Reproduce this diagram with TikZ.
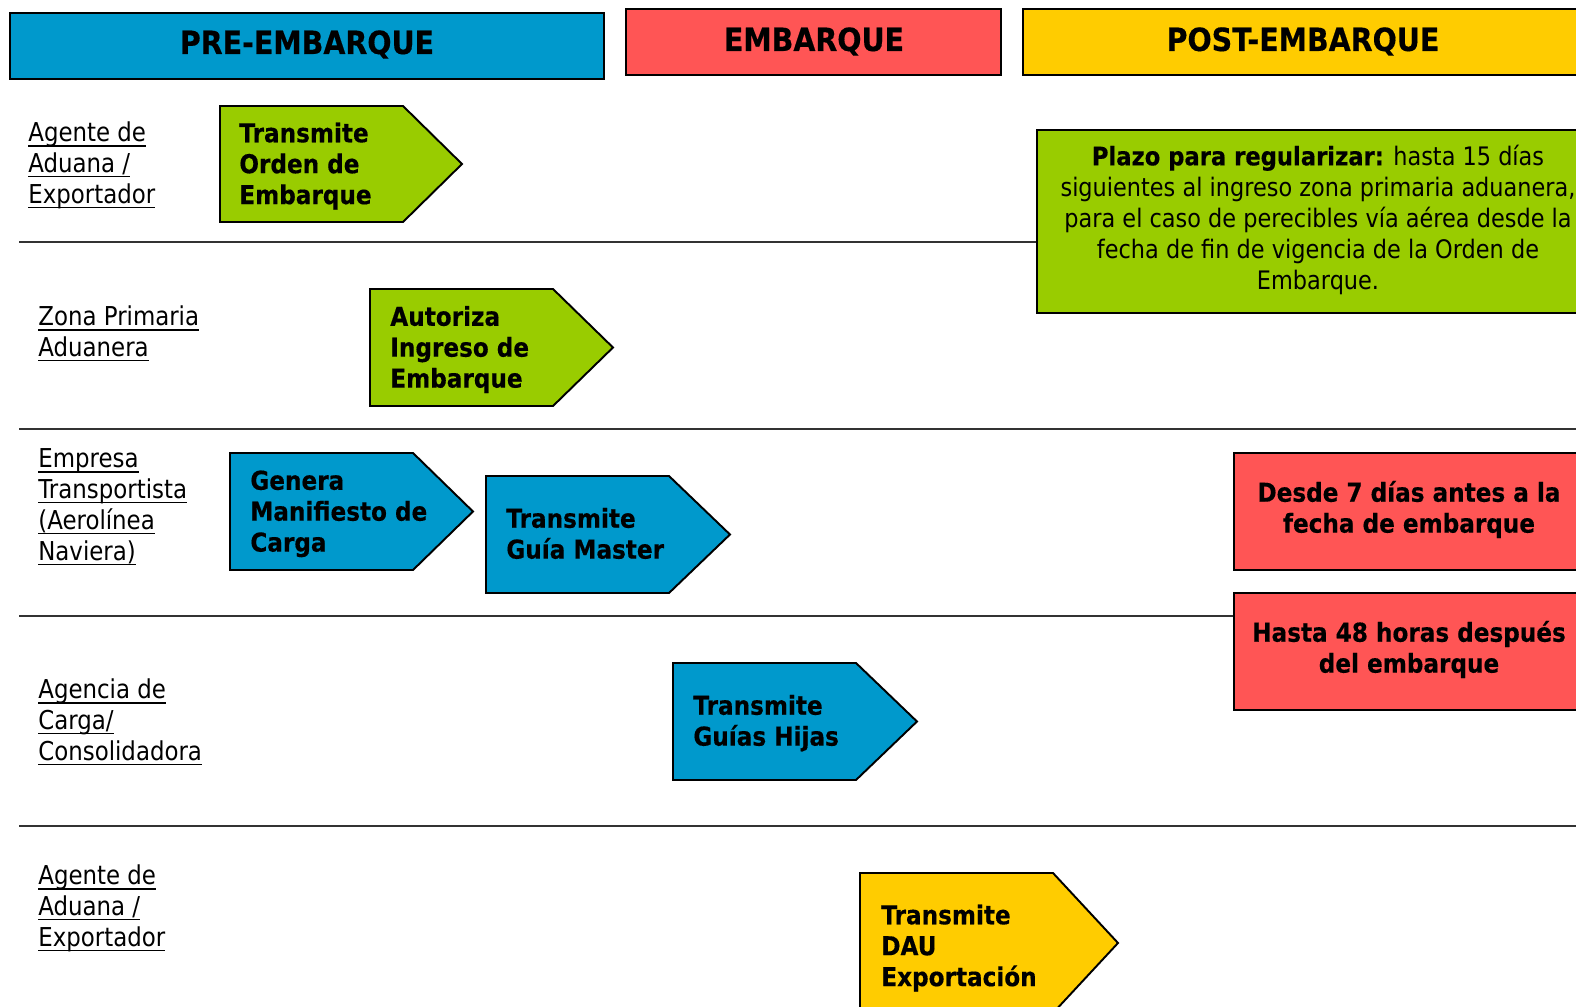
\documentclass[tikz,border=0pt]{standalone}
\usepackage{fontspec}
\setmainfont{DejaVu Sans}[FakeStretch=0.88, BoldFeatures={FakeStretch=0.89, FakeBold=0.4}]
\newsavebox\ulbox
\newcommand\ulin[1]{\sbox\ulbox{#1}\rlap{\rule[-3pt]{\wd\ulbox}{0.9pt}}\usebox\ulbox}
\definecolor{cblue}{HTML}{0099CC}
\definecolor{cred}{HTML}{FF5555}
\definecolor{cgreen}{HTML}{99CC00}
\definecolor{cyellow}{HTML}{FFCC00}
\definecolor{cline}{HTML}{333333}
\begin{document}
\begin{tikzpicture}[x=0.02cm,y=-0.02cm,
  hdr/.style={font=\fontsize{18.2}{22}\selectfont\bfseries, anchor=base, inner sep=0},
  boxline/.style={draw=black, line width=1.1pt},
  lane/.style={draw=cline, line width=1.1pt},
  lbl/.style={font=\fontsize{14.8}{17.6}\selectfont, align=left, anchor=north west, inner sep=0},
  btxt/.style={font=\fontsize{14.8}{17.6}\selectfont\bfseries, align=left, anchor=west, inner sep=0},
  ctxt/.style={font=\fontsize{14.5}{17.6}\selectfont, align=center, inner sep=0},
  rtxt/.style={font=\fontsize{14.8}{17.6}\selectfont\bfseries, align=center, inner sep=0},
]
\useasboundingbox (0,0) rectangle (1576,1007);
\clip (0,0) rectangle (1576,1007);
\fill[white] (0,0) rectangle (1576,1007);

% headers
\draw[boxline, fill=cblue] (10,13) rectangle (604,79);
\node[hdr] (hpre) at (307,54) {PRE-EMBARQUE};
\draw[boxline, fill=cred] (626,9) rectangle (1001,75);
\node[hdr] (hemb) at (814,51) {EMBARQUE};
\draw[boxline, fill=cyellow] (1023,9) rectangle (1600,75);
\node[hdr] (hpost) at (1303,51) {POST-EMBARQUE};

% lane lines
\draw[lane] (19,242) -- (1037,242);
\draw[lane] (19,429) -- (1580,429);
\draw[lane] (19,616) -- (1234,616);
\draw[lane] (19,826) -- (1580,826);

% lane labels
\node[lbl] (l1) at (28,119.3) {\strut\ulin{Agente de}\\\ulin{Aduana /}\\\ulin{Exportador}};
\node[lbl] (l2) at (38,303.3) {\strut\ulin{Zona Primaria}\\\ulin{Aduanera}};
\node[lbl] (l3) at (38,445.3) {\strut\ulin{Empresa}\\\ulin{Transportista}\\\ulin{(Aerolínea}\\\ulin{Naviera)}};
\node[lbl] (l4) at (38,676.3) {\strut\ulin{Agencia de}\\\ulin{Carga/}\\\ulin{Consolidadora}};
\node[lbl] (l5) at (38,862.3) {\strut\ulin{Agente de}\\\ulin{Aduana /}\\\ulin{Exportador}};

% arrows
\draw[boxline, fill=cgreen] (220,106) -- (403,106) -- (462,164) -- (403,222) -- (220,222) -- cycle;
\node[btxt] (a1) at (239,167) {\strut Transmite\\Orden de\\Embarque\strut};
\draw[boxline, fill=cgreen] (370,289) -- (553,289) -- (613,347.5) -- (553,406) -- (370,406) -- cycle;
\node[btxt] (a2) at (390,350.5) {\strut Autoriza\\Ingreso de\\Embarque\strut};
\draw[boxline, fill=cblue] (230,453) -- (413,453) -- (473,511.5) -- (413,570) -- (230,570) -- cycle;
\node[btxt] (a3) at (250,514.5) {\strut Genera\\Manifiesto de\\Carga\strut};
\draw[boxline, fill=cblue] (486,476) -- (669,476) -- (730,534.5) -- (669,593) -- (486,593) -- cycle;
\node[btxt] (a4) at (506,537) {\strut Transmite\\Guía Master\strut};
\draw[boxline, fill=cblue] (673,663) -- (856,663) -- (917,721.5) -- (856,780) -- (673,780) -- cycle;
\node[btxt] (a5) at (693,724) {\strut Transmite\\Guías Hijas\strut};
\draw[boxline, fill=cyellow] (860,873) -- (1053,873) -- (1118,943) -- (1053,1013) -- (860,1013) -- cycle;
\node[btxt] (a6) at (881,949) {\strut Transmite\\DAU\\Exportación\strut};

% post-embarque boxes
\draw[boxline, fill=cgreen] (1037,130) rectangle (1600,313);
\node[ctxt] (plazo) at (1318,221) {\strut\textbf{Plazo para regularizar:} hasta 15 días\\siguientes al ingreso zona primaria aduanera,\\para el caso de perecibles vía aérea desde la\\fecha de fin de vigencia de la Orden de\\Embarque.\strut};
\draw[boxline, fill=cred] (1234,453) rectangle (1600,570);
\node[rtxt] (r1) at (1409,511) {\strut Desde 7 días antes a la\\fecha de embarque\strut};
\draw[boxline, fill=cred] (1234,593) rectangle (1600,710);
\node[rtxt] (r2) at (1409,651) {\strut Hasta 48 horas después\\del embarque\strut};
\end{tikzpicture}
\end{document}
